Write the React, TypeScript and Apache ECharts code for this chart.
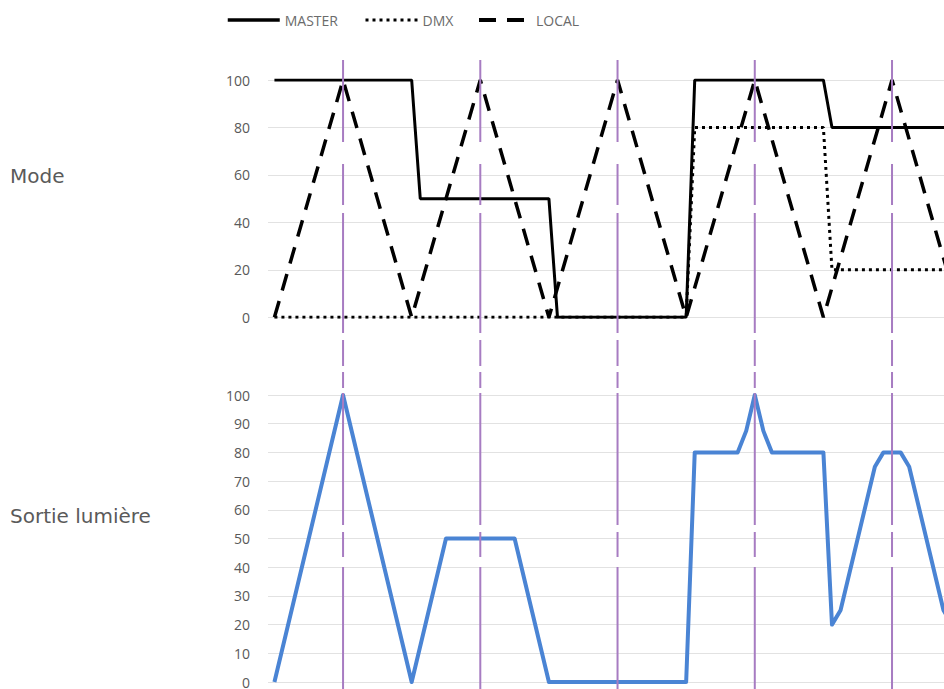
import React, { useEffect, useRef } from "react";
import * as echarts from "echarts";

// x positions are sample indices; values are percentages
const masterData: [number, number][] = [
  [0, 100], [16, 100], [17, 50], [32, 50], [33, 0], [48, 0], [49, 100], [64, 100], [65, 80], [80, 80],
];
const dmxData: [number, number][] = [
  [0, 0], [48, 0], [49, 80], [64, 80], [65, 20], [80, 20],
];
const localData: [number, number][] = [
  [0, 0], [8, 100], [16, 0], [24, 100], [32, 0], [40, 100], [48, 0], [56, 100], [64, 0], [72, 100], [80, 0],
];
const outputData: [number, number][] = [
  [0, 0], [8, 100], [16, 0], [20, 50], [28, 50], [32, 0], [48, 0], [49, 80], [54, 80], [55, 87.5],
  [56, 100], [57, 87.5], [58, 80], [64, 80], [65, 20], [66, 25], [70, 75], [71, 80], [73, 80],
  [74, 75], [78, 25], [79, 20],
];
const markerX: number[] = [8, 24, 40, 56, 72];
const rowLabels: string[] = ["Mode", "Sortie lumière"];
const legendNames: string[] = ["MASTER", "DMX", "LOCAL"];

export default function App() {
  const ref = useRef<HTMLDivElement>(null);
  useEffect(() => {
    if (!ref.current) return;
    const chart = echarts.init(ref.current, null, { renderer: "svg" });
    const xMin = -0.75;
    const xMax = 78.06;
    const labelStyle = { color: "#595959", fontSize: 14, fontFamily: "Open Sans", margin: 18 };
    const grid = { lineStyle: { color: "#e2e2e2", width: 1 } };
    const purpleDash = [82, 22, 41, 8, 120, 7, 26, 6, 16, 5, 132, 7, 25, 10, 200];
    const legendLineWidth = [3.5, 3, 4];
    const option: any = {
      animation: false,
      backgroundColor: "#ffffff",
      legend: legendNames.map((n, i) => ({
        data: [n],
        left: [226, 364, 477][i],
        top: 13,
        padding: 0,
        itemWidth: 52,
        itemHeight: 14,
        itemGap: 0,
        itemStyle: { opacity: 0 },
        lineStyle: { width: legendLineWidth[i] },
        textStyle: { color: "#6b6b6b", fontSize: 14, fontFamily: "Open Sans" },
      })),
      grid: [
        { left: 268, right: 0, top: 80, height: 237.3 },
        { left: 268, right: 0, top: 395, height: 288.3 },
        { left: 268, right: 0, top: 60, height: 629 },
      ],
      xAxis: [0, 1, 2].map((i) => ({
        type: "value",
        gridIndex: i,
        min: xMin,
        max: xMax,
        show: false,
      })),
      yAxis: [
        {
          type: "value", gridIndex: 0, min: 0, max: 100, interval: 20,
          axisLine: { show: false }, axisTick: { show: false },
          axisLabel: labelStyle, splitLine: grid,
        },
        {
          type: "value", gridIndex: 1, min: 0, max: 100, interval: 10,
          axisLine: { show: false }, axisTick: { show: false },
          axisLabel: labelStyle, splitLine: grid,
        },
        { type: "value", gridIndex: 2, min: 0, max: 100, show: false },
      ],
      graphic: [
        {
          type: "text", left: 10, top: 166,
          style: { text: rowLabels[0], fill: "#5a5a5a", font: "20px 'DejaVu Sans'" },
        },
        {
          type: "text", left: 10, top: 506,
          style: { text: rowLabels[1], fill: "#5a5a5a", font: "20px 'DejaVu Sans'" },
        },
      ],
      series: [
        {
          name: "LOCAL", type: "line", xAxisIndex: 0, yAxisIndex: 0, data: localData,
          symbol: "none", z: 3, itemStyle: { color: "#000" },
          lineStyle: { color: "#000", width: 3.5, type: [17, 11], cap: "butt" },
        },
        {
          name: "DMX", type: "line", xAxisIndex: 0, yAxisIndex: 0, data: dmxData,
          symbol: "none", z: 3, itemStyle: { color: "#000" },
          lineStyle: { color: "#000", width: 3, type: [3, 4], cap: "butt" },
        },
        {
          name: "MASTER", type: "line", xAxisIndex: 0, yAxisIndex: 0, data: masterData,
          symbol: "none", z: 4, itemStyle: { color: "#000" },
          lineStyle: { color: "#000", width: 3, type: "solid" },
        },
        {
          name: "Sortie", type: "line", xAxisIndex: 1, yAxisIndex: 1, data: outputData,
          symbol: "none", z: 3,
          lineStyle: { color: "#4a84d4", width: 4, join: "round" },
        },
        ...markerX.map((x, i) => ({
          name: "marker" + i, type: "line", xAxisIndex: 2, yAxisIndex: 2,
          data: [[x, 100], [x, 0]], symbol: "none", z: 6, silent: true,
          lineStyle: { color: "#a77cc2", width: 2, type: purpleDash, cap: "butt" },
        })),
      ],
    };
    chart.setOption(option);
    return () => chart.dispose();
  }, []);
  return (
    <div
      ref={ref}
      style={{ position: "fixed", left: 0, top: 0, width: 944, height: 689, background: "#fff" }}
    />
  );
}
